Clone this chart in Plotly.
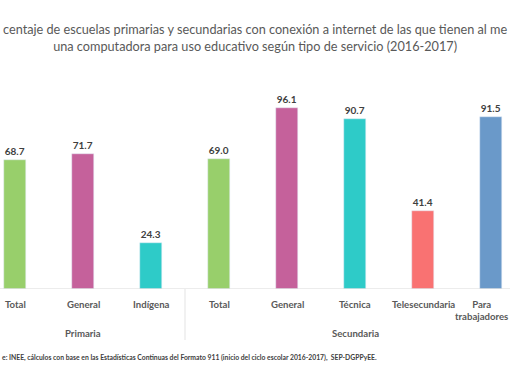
import plotly.graph_objects as go

categories = ["Total", "General", "Indígena", "Total", "General", "Técnica", "Telesecundaria", "Para<br>trabajadores"]
values = [68.7, 71.7, 24.3, 69.0, 96.1, 90.7, 41.4, 91.5]
colors = ["#98CF6B", "#C5619B", "#2ECBC8", "#98CF6B", "#C5619B", "#2ECBC8", "#F97272", "#6A99C9"]
groups = ["Primaria", "Secundaria"]
group_centers = [1, 5]
group_dividers = [2.5]
title_lines = ["centaje de escuelas primarias y secundarias con conexión a internet de las que tienen al me",
               "una computadora para uso educativo según tipo de servicio (2016-2017)"]
source = "e: INEE, cálculos con base en las Estadísticas Continuas del Formato 911 (inicio del ciclo escolar 2016-2017),  SEP-DGPPyEE."

x = list(range(len(categories)))
FONT = "Lato, 'Open Sans', sans-serif"

fig = go.Figure()
fig.add_trace(go.Bar(
    x=x, y=values, marker_color=colors, width=0.31,
    text=[f"{v:.1f}" for v in values], textposition="outside",
    textfont=dict(family=FONT, size=10, color="#404040", weight="bold"),
    cliponaxis=False, hoverinfo="skip",
))

fig.update_layout(
    width=510, height=382,
    margin=dict(l=0, r=0, t=70, b=93, autoexpand=False),
    plot_bgcolor="white", paper_bgcolor="white",
    showlegend=False, bargap=0,
    xaxis=dict(range=[-0.2206, 7.279], automargin=False, showticklabels=False,
               showgrid=False, zeroline=False, showline=False, ticks=""),
    yaxis=dict(range=[0, 116.5], visible=False, automargin=False),
)

# category labels (last one kept inside the right edge)
for i, c in enumerate(categories):
    last = i == len(categories) - 1
    fig.add_annotation(x=1 if last else i, xref="paper" if last else "x",
                       xanchor="right" if last else "center",
                       y=-0.038, yref="paper", yanchor="top",
                       text=f"<b>{c}</b>", showarrow=False, align="center",
                       font=dict(family=FONT, size=9.6, color="#595959"))

# baseline
fig.add_shape(type="line", xref="paper", yref="y", x0=0, x1=1, y0=0, y1=0,
              line=dict(color="#D9D9D9", width=1))
# group dividers
for d in group_dividers:
    fig.add_shape(type="line", xref="x", yref="paper", x0=d, x1=d, y0=0, y1=-0.233,
                  line=dict(color="#E3E3E3", width=1))
# group labels
for g, c in zip(groups, group_centers):
    fig.add_annotation(x=c, xref="x", y=-0.203, yref="paper", text=f"<b>{g}</b>",
                       showarrow=False, yanchor="middle",
                       font=dict(family=FONT, size=9.6, color="#595959"))

# title
fig.add_annotation(x=0.5, xref="paper", y=1.148, yref="paper",
                   text=title_lines[0] + "<br>" + title_lines[1],
                   showarrow=False, yanchor="middle", align="center",
                   font=dict(family=FONT, size=12.7, color="#595959"))
# source
fig.add_annotation(x=0, xref="paper", xanchor="left", y=-0.315, yref="paper",
                   text=f"<b>{source}</b>", showarrow=False, yanchor="middle",
                   font=dict(family=FONT, size=6.8, color="#404040"))

fig.write_html("out.html", config={"displayModeBar": False},
               post_script="document.body.style.margin='0';")
